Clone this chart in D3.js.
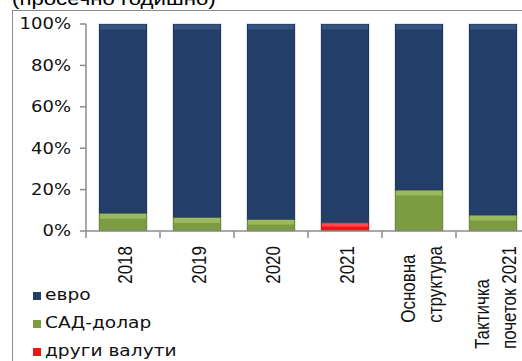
<!DOCTYPE html>
<html><head><meta charset="utf-8">
<script src="https://cdn.jsdelivr.net/npm/d3@7"></script>
<style>html,body{margin:0;padding:0;background:#fff;overflow:hidden}</style>
</head><body>
<svg id="c" width="522" height="361"></svg>
<script>
const title = "(просечно годишно)";
const categories = [["2018"],["2019"],["2020"],["2021"],["Основна","структура"],["Тактичка","почеток 2021"]];
const seriesNames = ["евро","САД-долар","други валути"];
const usd   = [8.6, 6.6, 5.6, 0, 19.8, 7.7];
const other = [0, 0, 0, 4.0, 0, 0];
const euro  = [91.4, 93.4, 94.4, 96.0, 80.2, 92.3];
const yTicks = [0,20,40,60,80,100];
const colors = ["#233f69","#7d9b40","#f21515"];
const hilite = ["#3c5b88","#a6c36a","#ff6060"];

const svg = d3.select("#c");
const SX = 1.2;
// title
svg.append("g").attr("transform","translate(12,4.5) scale("+SX+",1)")
  .append("text").text(title).attr("font-family","Liberation Sans, Arial").attr("font-size",18.5).attr("fill","#000");
// border
svg.append("rect").attr("x",12.5).attr("y",10.5).attr("width",600).attr("height",400)
  .attr("fill","none").attr("stroke","#8c8c8c").attr("stroke-width",1);

const x = d3.scaleBand().domain(d3.range(categories.length)).range([86,86+74*6]).paddingInner(26/74).paddingOuter(13/74);
const y = d3.scaleLinear().domain([0,100]).range([231,24]);

const rows = categories.map((c,i)=>({i, "евро":euro[i], "САД-долар":usd[i], "други валути":other[i]}));
const stack = d3.stack().keys(["други валути","САД-долар","евро"]);
const layers = stack(rows);
const colorOf = {"евро":0,"САД-долар":1,"други валути":2};

layers.forEach(layer=>{
  const ci = colorOf[layer.key];
  const g = svg.append("g");
  layer.forEach((d,i)=>{
    const h = y(d[0]) - y(d[1]);
    if (h <= 0.01) return;
    g.append("rect").attr("x",x(i)).attr("y",y(d[1])).attr("width",x.bandwidth()).attr("height",h)
      .attr("fill",colors[ci]).attr("stroke","rgba(0,0,0,0.28)").attr("stroke-width",0.8);
    const hh = Math.min(5,h*0.4);
    g.append("rect").attr("x",x(i)+1).attr("y",y(d[1])+0.5).attr("width",x.bandwidth()-2).attr("height",hh)
      .attr("fill",hilite[ci]).attr("opacity",0.75);
  });
});

// y axis
const ya = svg.append("g");
ya.append("line").attr("x1",86).attr("x2",86).attr("y1",y(100)).attr("y2",y(0)).attr("stroke","#8c8c8c").attr("stroke-width",1.5);
yTicks.forEach(t=>{
  ya.append("line").attr("x1",80).attr("x2",86).attr("y1",y(t)).attr("y2",y(t)).attr("stroke","#8c8c8c").attr("stroke-width",1.5);
  ya.append("g").attr("transform","translate(71,"+y(t)+") scale("+SX+",1)")
    .append("text").text(t+"%").attr("text-anchor","end").attr("dy","0.36em")
    .attr("font-family","DejaVu Sans, Tahoma").attr("font-size",15).attr("fill","#111");
});
// x axis
const xa = svg.append("g");
xa.append("line").attr("x1",86).attr("x2",540).attr("y1",y(0)).attr("y2",y(0)).attr("stroke","#8c8c8c").attr("stroke-width",1.5);
d3.range(categories.length+1).forEach(k=>{
  const xx = 86 + x.step()*k;
  xa.append("line").attr("x1",xx).attr("x2",xx).attr("y1",y(0)).attr("y2",y(0)+7).attr("stroke","#8c8c8c").attr("stroke-width",1.5);
});
categories.forEach((lines,i)=>{
  const cx = x(i)+x.bandwidth()/2+2;
  const g = xa.append("g").attr("transform","translate("+cx+",246) scale("+SX+",1) rotate(-90)");
  const texts = lines.map((ln,j)=>g.append("text").text(ln)
     .attr("y",(j-(lines.length-1)/2)*22.5).attr("dy","0.36em")
     .attr("font-family","Liberation Sans, Arial").attr("font-size",17).attr("fill","#111"));
  const L = d3.max(texts, t=>t.node().getComputedTextLength());
  texts.forEach(t=>t.attr("x",-L));
});

// legend
seriesNames.forEach((n,k)=>{
  const by = 300 + 28*k;
  svg.append("rect").attr("x",33).attr("y",by-8).attr("width",8).attr("height",8).attr("fill",colors[k]);
  svg.append("g").attr("transform","translate(45,"+by+") scale("+SX+",1)")
    .append("text").text(n).attr("font-family","DejaVu Sans, Tahoma").attr("font-size",15.5).attr("fill","#111");
});
</script>
</body></html>
